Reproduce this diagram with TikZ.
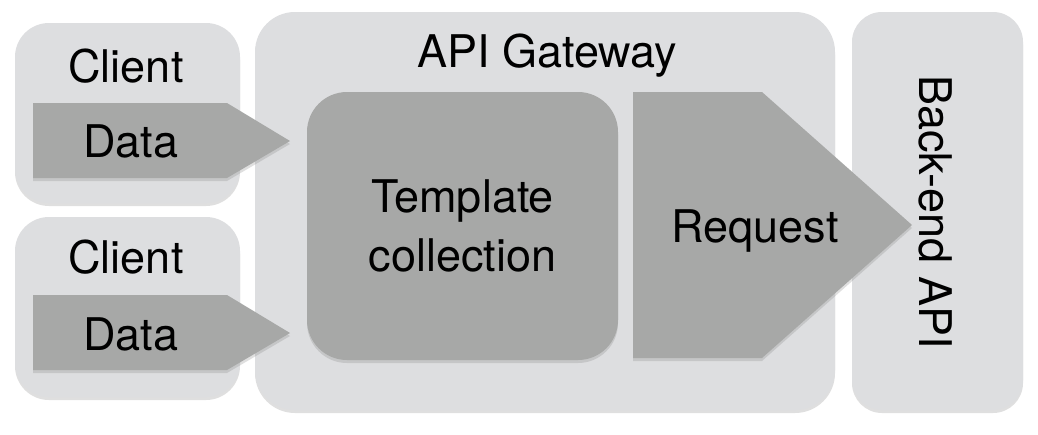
\documentclass[tikz,border=0pt]{standalone}
\usepackage{fontspec}
\setmainfont{TeX Gyre Heros}
\usepackage{tikz}
\usetikzlibrary{shadows}
\definecolor{boxgray}{RGB}{221,222,224}
\definecolor{stepgray}{RGB}{167,168,167}

\begin{document}
\begin{tikzpicture}[x=1pt,y=-1pt,
    shade box/.style={drop shadow={shadow xshift=0pt,shadow yshift=-3pt,opacity=0.25}},
    outerbox/.style={fill=boxgray,shade box,inner sep=0pt},
    innerbox/.style={fill=stepgray,shade box,inner sep=0pt},
    label text/.style={font=\fontsize{45}{59}\selectfont,inner sep=0pt}]
        \fill [white] (0,0) rectangle (1038,434);
        \useasboundingbox (0,0) rectangle (1038,434);

        \node [outerbox,rounded corners=34pt,minimum width=225pt,minimum height=180pt] (client1) at (127.5,113) {};
        \node [outerbox,rounded corners=34pt,minimum width=225pt,minimum height=180pt] (client2) at (127.5,307) {};
        \node [outerbox,rounded corners=40pt,minimum width=580pt,minimum height=398pt] (gateway) at (545,211) {};
        \node [outerbox,rounded corners=30pt,minimum width=171pt,minimum height=398pt] (backend) at (937.5,211) {};

        \node [innerbox,rounded corners=40pt,minimum width=311pt,minimum height=268pt,label text,align=center] (templates) at (462.5,226) {Template\\collection};

        \fill [stepgray,shade box] (33,103) -- (227,103) -- (290,141) -- (227,178) -- (33,178) -- cycle;
        \fill [stepgray,shade box] (33,295) -- (227,295) -- (290,333) -- (227,370) -- (33,370) -- cycle;
        \fill [stepgray,shade box] (633,92) -- (762,92) -- (912,225) -- (762,358) -- (633,358) -- cycle;

        \node [label text,anchor=base] (client1 text) at (126,82) {Client};
        \node [label text,anchor=base] (client2 text) at (126,273) {Client};
        \node [label text,anchor=base] (data1) at (131,157) {Data};
        \node [label text,anchor=base] (data2) at (131,350) {Data};
        \node [label text,anchor=base] (gateway text) at (547,67) {API Gateway};
        \node [label text,anchor=base] (request) at (755,242) {Request};
        \node [label text,rotate=-90] (backend text) at (936,212) {Back-end API};
    \end{tikzpicture}
\end{document}
